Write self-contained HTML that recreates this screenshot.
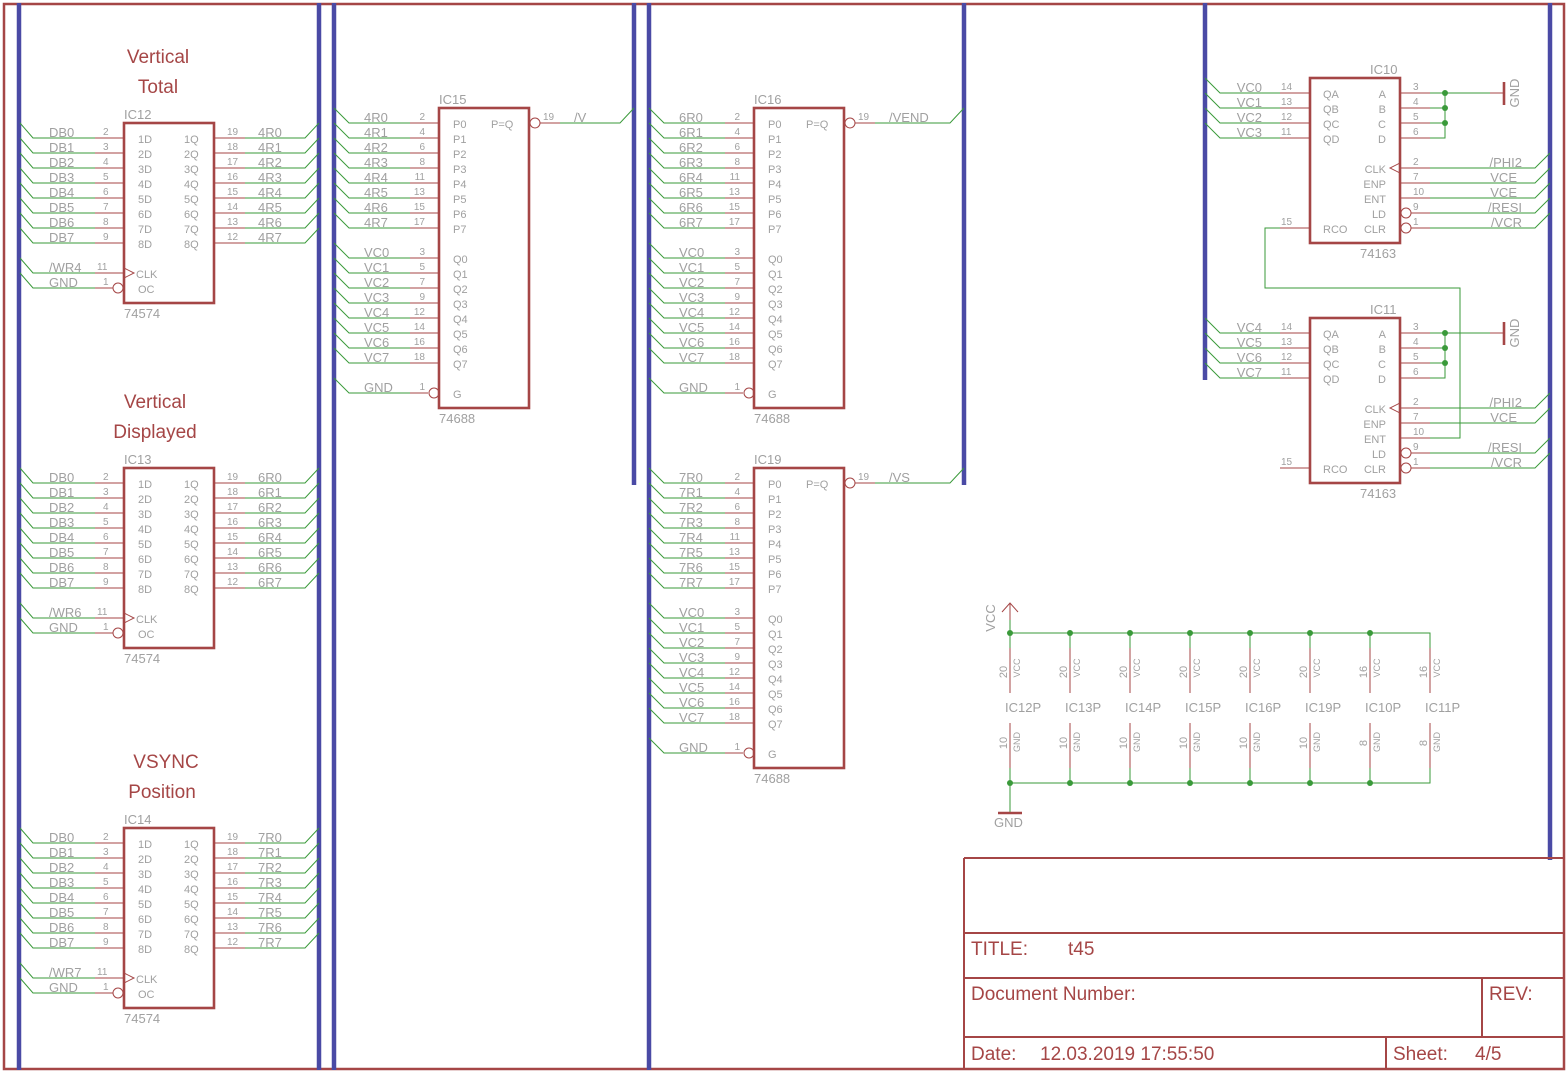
<!DOCTYPE html>
<html><head><meta charset="utf-8"><style>
html,body{margin:0;padding:0;background:#fff}
svg{display:block}
text{font-family:"Liberation Sans",sans-serif;fill:#a0a0a0}
.l{font-size:13px}
.n{font-size:10px}
.i{font-size:11px}
.h{font-size:19px;fill:#a54646}
.t{font-size:19px;fill:#a54646}
.g{stroke:#3a9a3a;stroke-width:1;fill:none}
.r{stroke:#a54646;stroke-width:1;fill:none}
.b{stroke:#a54646;stroke-width:2.6;fill:none}
.bus{stroke:#4a4aa5;stroke-width:4.5;fill:none}
</style></head><body>
<svg width="1567" height="1073" viewBox="0 0 1567 1073" xmlns="http://www.w3.org/2000/svg">
<rect x="4" y="4" width="1560" height="1065" fill="none" stroke="#a54646" stroke-width="2.5"/>
<path class="bus" d="M19 3V1070M319 3V1070M334 3V1070M634 3V485M649 3V1070M964 3V485M1205 3V380M1550 3V860"/>

<!-- latch template IC12 -->
<g id="L1">
<text class="h" x="158" y="63" text-anchor="middle">Vertical</text>
<text class="h" x="158" y="93" text-anchor="middle">Total</text>
<rect class="b" x="124" y="123" width="90" height="180"/>
<path class="g" d="M20 123L33 138H95M20 138L33 153H95M20 153L33 168H95M20 168L33 183H95M20 183L33 198H95M20 198L33 213H95M20 213L33 228H95M20 228L33 243H95M20 258L33 273H95M20 273L33 288H95"/>
<path class="r" d="M95 138H124M95 153H124M95 168H124M95 183H124M95 198H124M95 213H124M95 228H124M95 243H124M95 273H124M95 288H113M124 268L134 273L124 278"/>
<circle class="r" cx="118" cy="288" r="5"/>
<path class="r" d="M214 138H245M214 153H245M214 168H245M214 183H245M214 198H245M214 213H245M214 228H245M214 243H245"/>
<path class="g" d="M245 138H305L319 123M245 153H305L319 138M245 168H305L319 153M245 183H305L319 168M245 198H305L319 183M245 213H305L319 198M245 228H305L319 213M245 243H305L319 228"/>
<text class="l" x="124" y="119">IC12</text>
<text class="l" x="124" y="318">74574</text>
<g class="i">
<text class="i" x="138" y="143">1D</text><text class="i" x="138" y="158">2D</text><text class="i" x="138" y="173">3D</text><text class="i" x="138" y="188">4D</text><text class="i" x="138" y="203">5D</text><text class="i" x="138" y="218">6D</text><text class="i" x="138" y="233">7D</text><text class="i" x="138" y="248">8D</text>
<text class="i" x="136" y="278">CLK</text><text class="i" x="138" y="293">OC</text>
<text class="i" x="184" y="143">1Q</text><text class="i" x="184" y="158">2Q</text><text class="i" x="184" y="173">3Q</text><text class="i" x="184" y="188">4Q</text><text class="i" x="184" y="203">5Q</text><text class="i" x="184" y="218">6Q</text><text class="i" x="184" y="233">7Q</text><text class="i" x="184" y="248">8Q</text>
</g>
<text class="n" x="103" y="135">2</text><text class="n" x="103" y="150">3</text><text class="n" x="103" y="165">4</text><text class="n" x="103" y="180">5</text><text class="n" x="103" y="195">6</text><text class="n" x="103" y="210">7</text><text class="n" x="103" y="225">8</text><text class="n" x="103" y="240">9</text><text class="n" x="97" y="270">11</text><text class="n" x="103" y="285">1</text>
<text class="n" x="227" y="135">19</text><text class="n" x="227" y="150">18</text><text class="n" x="227" y="165">17</text><text class="n" x="227" y="180">16</text><text class="n" x="227" y="195">15</text><text class="n" x="227" y="210">14</text><text class="n" x="227" y="225">13</text><text class="n" x="227" y="240">12</text>
<text class="l" x="49" y="137">DB0</text><text class="l" x="49" y="152">DB1</text><text class="l" x="49" y="167">DB2</text><text class="l" x="49" y="182">DB3</text><text class="l" x="49" y="197">DB4</text><text class="l" x="49" y="212">DB5</text><text class="l" x="49" y="227">DB6</text><text class="l" x="49" y="242">DB7</text>
<text class="l" x="49" y="272">/WR4</text><text class="l" x="49" y="287">GND</text>
<text class="l" x="258" y="137">4R0</text><text class="l" x="258" y="152">4R1</text><text class="l" x="258" y="167">4R2</text><text class="l" x="258" y="182">4R3</text><text class="l" x="258" y="197">4R4</text><text class="l" x="258" y="212">4R5</text><text class="l" x="258" y="227">4R6</text><text class="l" x="258" y="242">4R7</text>
</g>

<!-- IC13 -->
<g transform="translate(0,345)">
<text class="h" x="155" y="63" text-anchor="middle">Vertical</text>
<text class="h" x="155" y="93" text-anchor="middle">Displayed</text>
<rect class="b" x="124" y="123" width="90" height="180"/>
<path class="g" d="M20 123L33 138H95M20 138L33 153H95M20 153L33 168H95M20 168L33 183H95M20 183L33 198H95M20 198L33 213H95M20 213L33 228H95M20 228L33 243H95M20 258L33 273H95M20 273L33 288H95"/>
<path class="r" d="M95 138H124M95 153H124M95 168H124M95 183H124M95 198H124M95 213H124M95 228H124M95 243H124M95 273H124M95 288H113M124 268L134 273L124 278"/>
<circle class="r" cx="118" cy="288" r="5"/>
<path class="r" d="M214 138H245M214 153H245M214 168H245M214 183H245M214 198H245M214 213H245M214 228H245M214 243H245"/>
<path class="g" d="M245 138H305L319 123M245 153H305L319 138M245 168H305L319 153M245 183H305L319 168M245 198H305L319 183M245 213H305L319 198M245 228H305L319 213M245 243H305L319 228"/>
<text class="l" x="124" y="119">IC13</text>
<text class="l" x="124" y="318">74574</text>
<text class="i" x="138" y="143">1D</text><text class="i" x="138" y="158">2D</text><text class="i" x="138" y="173">3D</text><text class="i" x="138" y="188">4D</text><text class="i" x="138" y="203">5D</text><text class="i" x="138" y="218">6D</text><text class="i" x="138" y="233">7D</text><text class="i" x="138" y="248">8D</text>
<text class="i" x="136" y="278">CLK</text><text class="i" x="138" y="293">OC</text>
<text class="i" x="184" y="143">1Q</text><text class="i" x="184" y="158">2Q</text><text class="i" x="184" y="173">3Q</text><text class="i" x="184" y="188">4Q</text><text class="i" x="184" y="203">5Q</text><text class="i" x="184" y="218">6Q</text><text class="i" x="184" y="233">7Q</text><text class="i" x="184" y="248">8Q</text>
<text class="n" x="103" y="135">2</text><text class="n" x="103" y="150">3</text><text class="n" x="103" y="165">4</text><text class="n" x="103" y="180">5</text><text class="n" x="103" y="195">6</text><text class="n" x="103" y="210">7</text><text class="n" x="103" y="225">8</text><text class="n" x="103" y="240">9</text><text class="n" x="97" y="270">11</text><text class="n" x="103" y="285">1</text>
<text class="n" x="227" y="135">19</text><text class="n" x="227" y="150">18</text><text class="n" x="227" y="165">17</text><text class="n" x="227" y="180">16</text><text class="n" x="227" y="195">15</text><text class="n" x="227" y="210">14</text><text class="n" x="227" y="225">13</text><text class="n" x="227" y="240">12</text>
<text class="l" x="49" y="137">DB0</text><text class="l" x="49" y="152">DB1</text><text class="l" x="49" y="167">DB2</text><text class="l" x="49" y="182">DB3</text><text class="l" x="49" y="197">DB4</text><text class="l" x="49" y="212">DB5</text><text class="l" x="49" y="227">DB6</text><text class="l" x="49" y="242">DB7</text>
<text class="l" x="49" y="272">/WR6</text><text class="l" x="49" y="287">GND</text>
<text class="l" x="258" y="137">6R0</text><text class="l" x="258" y="152">6R1</text><text class="l" x="258" y="167">6R2</text><text class="l" x="258" y="182">6R3</text><text class="l" x="258" y="197">6R4</text><text class="l" x="258" y="212">6R5</text><text class="l" x="258" y="227">6R6</text><text class="l" x="258" y="242">6R7</text>
</g>

<!-- IC14 -->
<g transform="translate(0,705)">
<text class="h" x="166" y="63" text-anchor="middle">VSYNC</text>
<text class="h" x="162" y="93" text-anchor="middle">Position</text>
<rect class="b" x="124" y="123" width="90" height="180"/>
<path class="g" d="M20 123L33 138H95M20 138L33 153H95M20 153L33 168H95M20 168L33 183H95M20 183L33 198H95M20 198L33 213H95M20 213L33 228H95M20 228L33 243H95M20 258L33 273H95M20 273L33 288H95"/>
<path class="r" d="M95 138H124M95 153H124M95 168H124M95 183H124M95 198H124M95 213H124M95 228H124M95 243H124M95 273H124M95 288H113M124 268L134 273L124 278"/>
<circle class="r" cx="118" cy="288" r="5"/>
<path class="r" d="M214 138H245M214 153H245M214 168H245M214 183H245M214 198H245M214 213H245M214 228H245M214 243H245"/>
<path class="g" d="M245 138H305L319 123M245 153H305L319 138M245 168H305L319 153M245 183H305L319 168M245 198H305L319 183M245 213H305L319 198M245 228H305L319 213M245 243H305L319 228"/>
<text class="l" x="124" y="119">IC14</text>
<text class="l" x="124" y="318">74574</text>
<text class="i" x="138" y="143">1D</text><text class="i" x="138" y="158">2D</text><text class="i" x="138" y="173">3D</text><text class="i" x="138" y="188">4D</text><text class="i" x="138" y="203">5D</text><text class="i" x="138" y="218">6D</text><text class="i" x="138" y="233">7D</text><text class="i" x="138" y="248">8D</text>
<text class="i" x="136" y="278">CLK</text><text class="i" x="138" y="293">OC</text>
<text class="i" x="184" y="143">1Q</text><text class="i" x="184" y="158">2Q</text><text class="i" x="184" y="173">3Q</text><text class="i" x="184" y="188">4Q</text><text class="i" x="184" y="203">5Q</text><text class="i" x="184" y="218">6Q</text><text class="i" x="184" y="233">7Q</text><text class="i" x="184" y="248">8Q</text>
<text class="n" x="103" y="135">2</text><text class="n" x="103" y="150">3</text><text class="n" x="103" y="165">4</text><text class="n" x="103" y="180">5</text><text class="n" x="103" y="195">6</text><text class="n" x="103" y="210">7</text><text class="n" x="103" y="225">8</text><text class="n" x="103" y="240">9</text><text class="n" x="97" y="270">11</text><text class="n" x="103" y="285">1</text>
<text class="n" x="227" y="135">19</text><text class="n" x="227" y="150">18</text><text class="n" x="227" y="165">17</text><text class="n" x="227" y="180">16</text><text class="n" x="227" y="195">15</text><text class="n" x="227" y="210">14</text><text class="n" x="227" y="225">13</text><text class="n" x="227" y="240">12</text>
<text class="l" x="49" y="137">DB0</text><text class="l" x="49" y="152">DB1</text><text class="l" x="49" y="167">DB2</text><text class="l" x="49" y="182">DB3</text><text class="l" x="49" y="197">DB4</text><text class="l" x="49" y="212">DB5</text><text class="l" x="49" y="227">DB6</text><text class="l" x="49" y="242">DB7</text>
<text class="l" x="49" y="272">/WR7</text><text class="l" x="49" y="287">GND</text>
<text class="l" x="258" y="137">7R0</text><text class="l" x="258" y="152">7R1</text><text class="l" x="258" y="167">7R2</text><text class="l" x="258" y="182">7R3</text><text class="l" x="258" y="197">7R4</text><text class="l" x="258" y="212">7R5</text><text class="l" x="258" y="227">7R6</text><text class="l" x="258" y="242">7R7</text>
</g>

<!-- Comparators -->
<g>
<rect class="b" x="439" y="108" width="90" height="300"/>
<path class="g" d="M334 108L349 123H410M334 123L349 138H410M334 138L349 153H410M334 153L349 168H410M334 168L349 183H410M334 183L349 198H410M334 198L349 213H410M334 213L349 228H410M334 243L349 258H410M334 258L349 273H410M334 273L349 288H410M334 288L349 303H410M334 303L349 318H410M334 318L349 333H410M334 333L349 348H410M334 348L349 363H410M334 378L349 393H410"/>
<path class="r" d="M410 123H439M410 138H439M410 153H439M410 168H439M410 183H439M410 198H439M410 213H439M410 228H439M410 258H439M410 273H439M410 288H439M410 303H439M410 318H439M410 333H439M410 348H439M410 363H439M410 393H428M540 123H560"/>
<circle class="r" cx="434" cy="393" r="5"/><circle class="r" cx="535" cy="123" r="5"/>
<text class="l" x="439" y="104">IC15</text><text class="l" x="439" y="423">74688</text>
<text class="i" x="453" y="128">P0</text><text class="i" x="453" y="143">P1</text><text class="i" x="453" y="158">P2</text><text class="i" x="453" y="173">P3</text><text class="i" x="453" y="188">P4</text><text class="i" x="453" y="203">P5</text><text class="i" x="453" y="218">P6</text><text class="i" x="453" y="233">P7</text>
<text class="i" x="453" y="263">Q0</text><text class="i" x="453" y="278">Q1</text><text class="i" x="453" y="293">Q2</text><text class="i" x="453" y="308">Q3</text><text class="i" x="453" y="323">Q4</text><text class="i" x="453" y="338">Q5</text><text class="i" x="453" y="353">Q6</text><text class="i" x="453" y="368">Q7</text><text class="i" x="453" y="398">G</text>
<text class="i" x="491" y="128">P=Q</text><text class="n" x="543" y="120">19</text>
<g text-anchor="end"><text class="n" x="425" y="120">2</text><text class="n" x="425" y="135">4</text><text class="n" x="425" y="150">6</text><text class="n" x="425" y="165">8</text><text class="n" x="425" y="180">11</text><text class="n" x="425" y="195">13</text><text class="n" x="425" y="210">15</text><text class="n" x="425" y="225">17</text>
<text class="n" x="425" y="255">3</text><text class="n" x="425" y="270">5</text><text class="n" x="425" y="285">7</text><text class="n" x="425" y="300">9</text><text class="n" x="425" y="315">12</text><text class="n" x="425" y="330">14</text><text class="n" x="425" y="345">16</text><text class="n" x="425" y="360">18</text><text class="n" x="425" y="390">1</text></g>
<text class="l" x="364" y="122">4R0</text><text class="l" x="364" y="137">4R1</text><text class="l" x="364" y="152">4R2</text><text class="l" x="364" y="167">4R3</text><text class="l" x="364" y="182">4R4</text><text class="l" x="364" y="197">4R5</text><text class="l" x="364" y="212">4R6</text><text class="l" x="364" y="227">4R7</text>
<text class="l" x="364" y="257">VC0</text><text class="l" x="364" y="272">VC1</text><text class="l" x="364" y="287">VC2</text><text class="l" x="364" y="302">VC3</text><text class="l" x="364" y="317">VC4</text><text class="l" x="364" y="332">VC5</text><text class="l" x="364" y="347">VC6</text><text class="l" x="364" y="362">VC7</text><text class="l" x="364" y="392">GND</text>
</g>
<path class="g" d="M560 123H620L634 108"/><text class="l" x="574" y="122">/V</text>

<g transform="translate(315,0)">
<rect class="b" x="439" y="108" width="90" height="300"/>
<path class="g" d="M334 108L349 123H410M334 123L349 138H410M334 138L349 153H410M334 153L349 168H410M334 168L349 183H410M334 183L349 198H410M334 198L349 213H410M334 213L349 228H410M334 243L349 258H410M334 258L349 273H410M334 273L349 288H410M334 288L349 303H410M334 303L349 318H410M334 318L349 333H410M334 333L349 348H410M334 348L349 363H410M334 378L349 393H410"/>
<path class="r" d="M410 123H439M410 138H439M410 153H439M410 168H439M410 183H439M410 198H439M410 213H439M410 228H439M410 258H439M410 273H439M410 288H439M410 303H439M410 318H439M410 333H439M410 348H439M410 363H439M410 393H428M540 123H560"/>
<circle class="r" cx="434" cy="393" r="5"/><circle class="r" cx="535" cy="123" r="5"/>
<text class="l" x="439" y="104">IC16</text><text class="l" x="439" y="423">74688</text>
<text class="i" x="453" y="128">P0</text><text class="i" x="453" y="143">P1</text><text class="i" x="453" y="158">P2</text><text class="i" x="453" y="173">P3</text><text class="i" x="453" y="188">P4</text><text class="i" x="453" y="203">P5</text><text class="i" x="453" y="218">P6</text><text class="i" x="453" y="233">P7</text>
<text class="i" x="453" y="263">Q0</text><text class="i" x="453" y="278">Q1</text><text class="i" x="453" y="293">Q2</text><text class="i" x="453" y="308">Q3</text><text class="i" x="453" y="323">Q4</text><text class="i" x="453" y="338">Q5</text><text class="i" x="453" y="353">Q6</text><text class="i" x="453" y="368">Q7</text><text class="i" x="453" y="398">G</text>
<text class="i" x="491" y="128">P=Q</text><text class="n" x="543" y="120">19</text>
<g text-anchor="end"><text class="n" x="425" y="120">2</text><text class="n" x="425" y="135">4</text><text class="n" x="425" y="150">6</text><text class="n" x="425" y="165">8</text><text class="n" x="425" y="180">11</text><text class="n" x="425" y="195">13</text><text class="n" x="425" y="210">15</text><text class="n" x="425" y="225">17</text>
<text class="n" x="425" y="255">3</text><text class="n" x="425" y="270">5</text><text class="n" x="425" y="285">7</text><text class="n" x="425" y="300">9</text><text class="n" x="425" y="315">12</text><text class="n" x="425" y="330">14</text><text class="n" x="425" y="345">16</text><text class="n" x="425" y="360">18</text><text class="n" x="425" y="390">1</text></g>
<text class="l" x="364" y="122">6R0</text><text class="l" x="364" y="137">6R1</text><text class="l" x="364" y="152">6R2</text><text class="l" x="364" y="167">6R3</text><text class="l" x="364" y="182">6R4</text><text class="l" x="364" y="197">6R5</text><text class="l" x="364" y="212">6R6</text><text class="l" x="364" y="227">6R7</text>
<text class="l" x="364" y="257">VC0</text><text class="l" x="364" y="272">VC1</text><text class="l" x="364" y="287">VC2</text><text class="l" x="364" y="302">VC3</text><text class="l" x="364" y="317">VC4</text><text class="l" x="364" y="332">VC5</text><text class="l" x="364" y="347">VC6</text><text class="l" x="364" y="362">VC7</text><text class="l" x="364" y="392">GND</text>
</g>
<path class="g" d="M875 123H950L964 108"/><text class="l" x="889" y="122">/VEND</text>

<g transform="translate(315,360)">
<rect class="b" x="439" y="108" width="90" height="300"/>
<path class="g" d="M334 108L349 123H410M334 123L349 138H410M334 138L349 153H410M334 153L349 168H410M334 168L349 183H410M334 183L349 198H410M334 198L349 213H410M334 213L349 228H410M334 243L349 258H410M334 258L349 273H410M334 273L349 288H410M334 288L349 303H410M334 303L349 318H410M334 318L349 333H410M334 333L349 348H410M334 348L349 363H410M334 378L349 393H410"/>
<path class="r" d="M410 123H439M410 138H439M410 153H439M410 168H439M410 183H439M410 198H439M410 213H439M410 228H439M410 258H439M410 273H439M410 288H439M410 303H439M410 318H439M410 333H439M410 348H439M410 363H439M410 393H428M540 123H560"/>
<circle class="r" cx="434" cy="393" r="5"/><circle class="r" cx="535" cy="123" r="5"/>
<text class="l" x="439" y="104">IC19</text><text class="l" x="439" y="423">74688</text>
<text class="i" x="453" y="128">P0</text><text class="i" x="453" y="143">P1</text><text class="i" x="453" y="158">P2</text><text class="i" x="453" y="173">P3</text><text class="i" x="453" y="188">P4</text><text class="i" x="453" y="203">P5</text><text class="i" x="453" y="218">P6</text><text class="i" x="453" y="233">P7</text>
<text class="i" x="453" y="263">Q0</text><text class="i" x="453" y="278">Q1</text><text class="i" x="453" y="293">Q2</text><text class="i" x="453" y="308">Q3</text><text class="i" x="453" y="323">Q4</text><text class="i" x="453" y="338">Q5</text><text class="i" x="453" y="353">Q6</text><text class="i" x="453" y="368">Q7</text><text class="i" x="453" y="398">G</text>
<text class="i" x="491" y="128">P=Q</text><text class="n" x="543" y="120">19</text>
<g text-anchor="end"><text class="n" x="425" y="120">2</text><text class="n" x="425" y="135">4</text><text class="n" x="425" y="150">6</text><text class="n" x="425" y="165">8</text><text class="n" x="425" y="180">11</text><text class="n" x="425" y="195">13</text><text class="n" x="425" y="210">15</text><text class="n" x="425" y="225">17</text>
<text class="n" x="425" y="255">3</text><text class="n" x="425" y="270">5</text><text class="n" x="425" y="285">7</text><text class="n" x="425" y="300">9</text><text class="n" x="425" y="315">12</text><text class="n" x="425" y="330">14</text><text class="n" x="425" y="345">16</text><text class="n" x="425" y="360">18</text><text class="n" x="425" y="390">1</text></g>
<text class="l" x="364" y="122">7R0</text><text class="l" x="364" y="137">7R1</text><text class="l" x="364" y="152">7R2</text><text class="l" x="364" y="167">7R3</text><text class="l" x="364" y="182">7R4</text><text class="l" x="364" y="197">7R5</text><text class="l" x="364" y="212">7R6</text><text class="l" x="364" y="227">7R7</text>
<text class="l" x="364" y="257">VC0</text><text class="l" x="364" y="272">VC1</text><text class="l" x="364" y="287">VC2</text><text class="l" x="364" y="302">VC3</text><text class="l" x="364" y="317">VC4</text><text class="l" x="364" y="332">VC5</text><text class="l" x="364" y="347">VC6</text><text class="l" x="364" y="362">VC7</text><text class="l" x="364" y="392">GND</text>
</g>
<path class="g" d="M875 483H950L964 468"/><text class="l" x="889" y="482">/VS</text>

<!-- Counters -->
<g>
<rect class="b" x="1310" y="78" width="90" height="165"/>
<path class="g" d="M1205 78L1220 93H1280M1205 93L1220 108H1280M1205 108L1220 123H1280M1205 123L1220 138H1280M1430 93H1490M1430 108H1445M1430 123H1445M1430 138H1445V93M1430 168H1535L1550 153M1430 183H1535L1550 168M1430 198H1535L1550 183M1430 213H1535L1550 198M1430 228H1535L1550 213M1280 228H1265V288H1460V438H1430"/>
<path class="r" d="M1280 93H1310M1280 108H1310M1280 123H1310M1280 138H1310M1280 228H1310M1400 93H1430M1400 108H1430M1400 123H1430M1400 138H1430M1490 93H1504M1400 168H1430M1400 183H1430M1400 198H1430M1411 213H1430M1411 228H1430M1400 163L1390 168L1400 173"/>
<path class="b" d="M1504 82V105"/>
<circle class="r" cx="1406" cy="213" r="5"/><circle class="r" cx="1406" cy="228" r="5"/>
<circle cx="1445" cy="93" r="3" fill="#3a9a3a"/><circle cx="1445" cy="108" r="3" fill="#3a9a3a"/><circle cx="1445" cy="123" r="3" fill="#3a9a3a"/>
<text class="l" transform="translate(1519,93) rotate(-90)" text-anchor="middle">GND</text>
<text class="l" x="1370" y="74">IC10</text><text class="l" x="1360" y="258">74163</text>
<text class="i" x="1323" y="98">QA</text><text class="i" x="1323" y="113">QB</text><text class="i" x="1323" y="128">QC</text><text class="i" x="1323" y="143">QD</text><text class="i" x="1323" y="233">RCO</text>
<g text-anchor="end"><text class="i" x="1386" y="98">A</text><text class="i" x="1386" y="113">B</text><text class="i" x="1386" y="128">C</text><text class="i" x="1386" y="143">D</text><text class="i" x="1386" y="173">CLK</text><text class="i" x="1386" y="188">ENP</text><text class="i" x="1386" y="203">ENT</text><text class="i" x="1386" y="218">LD</text><text class="i" x="1386" y="233">CLR</text>
<text class="l" x="1262" y="92">VC0</text><text class="l" x="1262" y="107">VC1</text><text class="l" x="1262" y="122">VC2</text><text class="l" x="1262" y="137">VC3</text>
<text class="l" x="1522" y="167">/PHI2</text><text class="l" x="1517" y="182">VCE</text><text class="l" x="1517" y="197">VCE</text><text class="l" x="1522" y="212">/RESI</text><text class="l" x="1522" y="227">/VCR</text></g>
<text class="n" x="1281" y="90">14</text><text class="n" x="1281" y="105">13</text><text class="n" x="1281" y="120">12</text><text class="n" x="1281" y="135">11</text><text class="n" x="1281" y="225">15</text>
<text class="n" x="1413" y="90">3</text><text class="n" x="1413" y="105">4</text><text class="n" x="1413" y="120">5</text><text class="n" x="1413" y="135">6</text><text class="n" x="1413" y="165">2</text><text class="n" x="1413" y="180">7</text><text class="n" x="1413" y="195">10</text><text class="n" x="1413" y="210">9</text><text class="n" x="1413" y="225">1</text>
</g>

<g transform="translate(0,240)">
<rect class="b" x="1310" y="78" width="90" height="165"/>
<path class="g" d="M1205 78L1220 93H1280M1205 93L1220 108H1280M1205 108L1220 123H1280M1205 123L1220 138H1280M1430 93H1490M1430 108H1445M1430 123H1445M1430 138H1445V93M1430 168H1535L1550 153M1430 183H1535L1550 168M1430 213H1535L1550 198M1430 228H1535L1550 213"/>
<path class="r" d="M1280 93H1310M1280 108H1310M1280 123H1310M1280 138H1310M1280 228H1310M1400 93H1430M1400 108H1430M1400 123H1430M1400 138H1430M1490 93H1504M1400 168H1430M1400 183H1430M1400 198H1430M1411 213H1430M1411 228H1430M1400 163L1390 168L1400 173"/>
<path class="b" d="M1504 82V105"/>
<circle class="r" cx="1406" cy="213" r="5"/><circle class="r" cx="1406" cy="228" r="5"/>
<circle cx="1445" cy="93" r="3" fill="#3a9a3a"/><circle cx="1445" cy="108" r="3" fill="#3a9a3a"/><circle cx="1445" cy="123" r="3" fill="#3a9a3a"/>
<text class="l" transform="translate(1519,93) rotate(-90)" text-anchor="middle">GND</text>
<text class="l" x="1370" y="74">IC11</text><text class="l" x="1360" y="258">74163</text>
<text class="i" x="1323" y="98">QA</text><text class="i" x="1323" y="113">QB</text><text class="i" x="1323" y="128">QC</text><text class="i" x="1323" y="143">QD</text><text class="i" x="1323" y="233">RCO</text>
<g text-anchor="end"><text class="i" x="1386" y="98">A</text><text class="i" x="1386" y="113">B</text><text class="i" x="1386" y="128">C</text><text class="i" x="1386" y="143">D</text><text class="i" x="1386" y="173">CLK</text><text class="i" x="1386" y="188">ENP</text><text class="i" x="1386" y="203">ENT</text><text class="i" x="1386" y="218">LD</text><text class="i" x="1386" y="233">CLR</text>
<text class="l" x="1262" y="92">VC4</text><text class="l" x="1262" y="107">VC5</text><text class="l" x="1262" y="122">VC6</text><text class="l" x="1262" y="137">VC7</text>
<text class="l" x="1522" y="167">/PHI2</text><text class="l" x="1517" y="182">VCE</text><text class="l" x="1522" y="212">/RESI</text><text class="l" x="1522" y="227">/VCR</text></g>
<text class="n" x="1281" y="90">14</text><text class="n" x="1281" y="105">13</text><text class="n" x="1281" y="120">12</text><text class="n" x="1281" y="135">11</text><text class="n" x="1281" y="225">15</text>
<text class="n" x="1413" y="90">3</text><text class="n" x="1413" y="105">4</text><text class="n" x="1413" y="120">5</text><text class="n" x="1413" y="135">6</text><text class="n" x="1413" y="165">2</text><text class="n" x="1413" y="180">7</text><text class="n" x="1413" y="195">10</text><text class="n" x="1413" y="210">9</text><text class="n" x="1413" y="225">1</text>
</g>

<!-- Power -->
<path class="r" d="M1010 603V620M1002 612L1010 603L1018 612"/>
<text class="l" transform="translate(995,618) rotate(-90)" text-anchor="middle">VCC</text>
<path class="g" d="M1010 620V633H1430V648M1010 633V648M1070 633V648M1130 633V648M1190 633V648M1250 633V648M1310 633V648M1370 633V648M1010 768V813M1070 768V783M1130 768V783M1190 768V783M1250 768V783M1310 768V783M1370 768V783M1430 768V783H1010"/>
<path class="r" d="M1010 648V693M1070 648V693M1130 648V693M1190 648V693M1250 648V693M1310 648V693M1370 648V693M1430 648V693M1010 723V768M1070 723V768M1130 723V768M1190 723V768M1250 723V768M1310 723V768M1370 723V768M1430 723V768"/>
<path class="b" d="M998 813H1022"/>
<g fill="#3a9a3a"><circle cx="1010" cy="633" r="3"/><circle cx="1070" cy="633" r="3"/><circle cx="1130" cy="633" r="3"/><circle cx="1190" cy="633" r="3"/><circle cx="1250" cy="633" r="3"/><circle cx="1310" cy="633" r="3"/><circle cx="1370" cy="633" r="3"/>
<circle cx="1010" cy="783" r="3"/><circle cx="1070" cy="783" r="3"/><circle cx="1130" cy="783" r="3"/><circle cx="1190" cy="783" r="3"/><circle cx="1250" cy="783" r="3"/><circle cx="1310" cy="783" r="3"/><circle cx="1370" cy="783" r="3"/></g>
<text class="l" x="994" y="827">GND</text>
<g text-anchor="middle">
<text class="i" transform="translate(1007,672) rotate(-90)">20</text><text class="n" style="font-size:9px" transform="translate(1020,668) rotate(-90)">VCC</text>
<text class="i" transform="translate(1067,672) rotate(-90)">20</text><text class="n" style="font-size:9px" transform="translate(1080,668) rotate(-90)">VCC</text>
<text class="i" transform="translate(1127,672) rotate(-90)">20</text><text class="n" style="font-size:9px" transform="translate(1140,668) rotate(-90)">VCC</text>
<text class="i" transform="translate(1187,672) rotate(-90)">20</text><text class="n" style="font-size:9px" transform="translate(1200,668) rotate(-90)">VCC</text>
<text class="i" transform="translate(1247,672) rotate(-90)">20</text><text class="n" style="font-size:9px" transform="translate(1260,668) rotate(-90)">VCC</text>
<text class="i" transform="translate(1307,672) rotate(-90)">20</text><text class="n" style="font-size:9px" transform="translate(1320,668) rotate(-90)">VCC</text>
<text class="i" transform="translate(1367,672) rotate(-90)">16</text><text class="n" style="font-size:9px" transform="translate(1380,668) rotate(-90)">VCC</text>
<text class="i" transform="translate(1427,672) rotate(-90)">16</text><text class="n" style="font-size:9px" transform="translate(1440,668) rotate(-90)">VCC</text>
<text class="i" transform="translate(1007,743) rotate(-90)">10</text><text class="n" style="font-size:9px" transform="translate(1020,742) rotate(-90)">GND</text>
<text class="i" transform="translate(1067,743) rotate(-90)">10</text><text class="n" style="font-size:9px" transform="translate(1080,742) rotate(-90)">GND</text>
<text class="i" transform="translate(1127,743) rotate(-90)">10</text><text class="n" style="font-size:9px" transform="translate(1140,742) rotate(-90)">GND</text>
<text class="i" transform="translate(1187,743) rotate(-90)">10</text><text class="n" style="font-size:9px" transform="translate(1200,742) rotate(-90)">GND</text>
<text class="i" transform="translate(1247,743) rotate(-90)">10</text><text class="n" style="font-size:9px" transform="translate(1260,742) rotate(-90)">GND</text>
<text class="i" transform="translate(1307,743) rotate(-90)">10</text><text class="n" style="font-size:9px" transform="translate(1320,742) rotate(-90)">GND</text>
<text class="i" transform="translate(1367,743) rotate(-90)">8</text><text class="n" style="font-size:9px" transform="translate(1380,742) rotate(-90)">GND</text>
<text class="i" transform="translate(1427,743) rotate(-90)">8</text><text class="n" style="font-size:9px" transform="translate(1440,742) rotate(-90)">GND</text>
</g>
<text class="l" x="1005" y="712">IC12P</text><text class="l" x="1065" y="712">IC13P</text><text class="l" x="1125" y="712">IC14P</text><text class="l" x="1185" y="712">IC15P</text><text class="l" x="1245" y="712">IC16P</text><text class="l" x="1305" y="712">IC19P</text><text class="l" x="1365" y="712">IC10P</text><text class="l" x="1425" y="712">IC11P</text>

<!-- Title block -->
<path class="b" style="stroke-width:2" d="M964 858H1565M964 858V1070M964 933H1565M964 978H1565M964 1037H1565M1482 978V1037M1386 1037V1070"/>
<text class="t" x="971" y="955">TITLE:</text><text class="t" x="1068" y="955">t45</text>
<text class="t" x="971" y="1000">Document Number:</text><text class="t" x="1489" y="1000">REV:</text>
<text class="t" x="971" y="1060">Date:</text><text class="t" x="1040" y="1060">12.03.2019 17:55:50</text>
<text class="t" x="1393" y="1060">Sheet:</text><text class="t" x="1475" y="1060">4/5</text>
</svg>
</body></html>
